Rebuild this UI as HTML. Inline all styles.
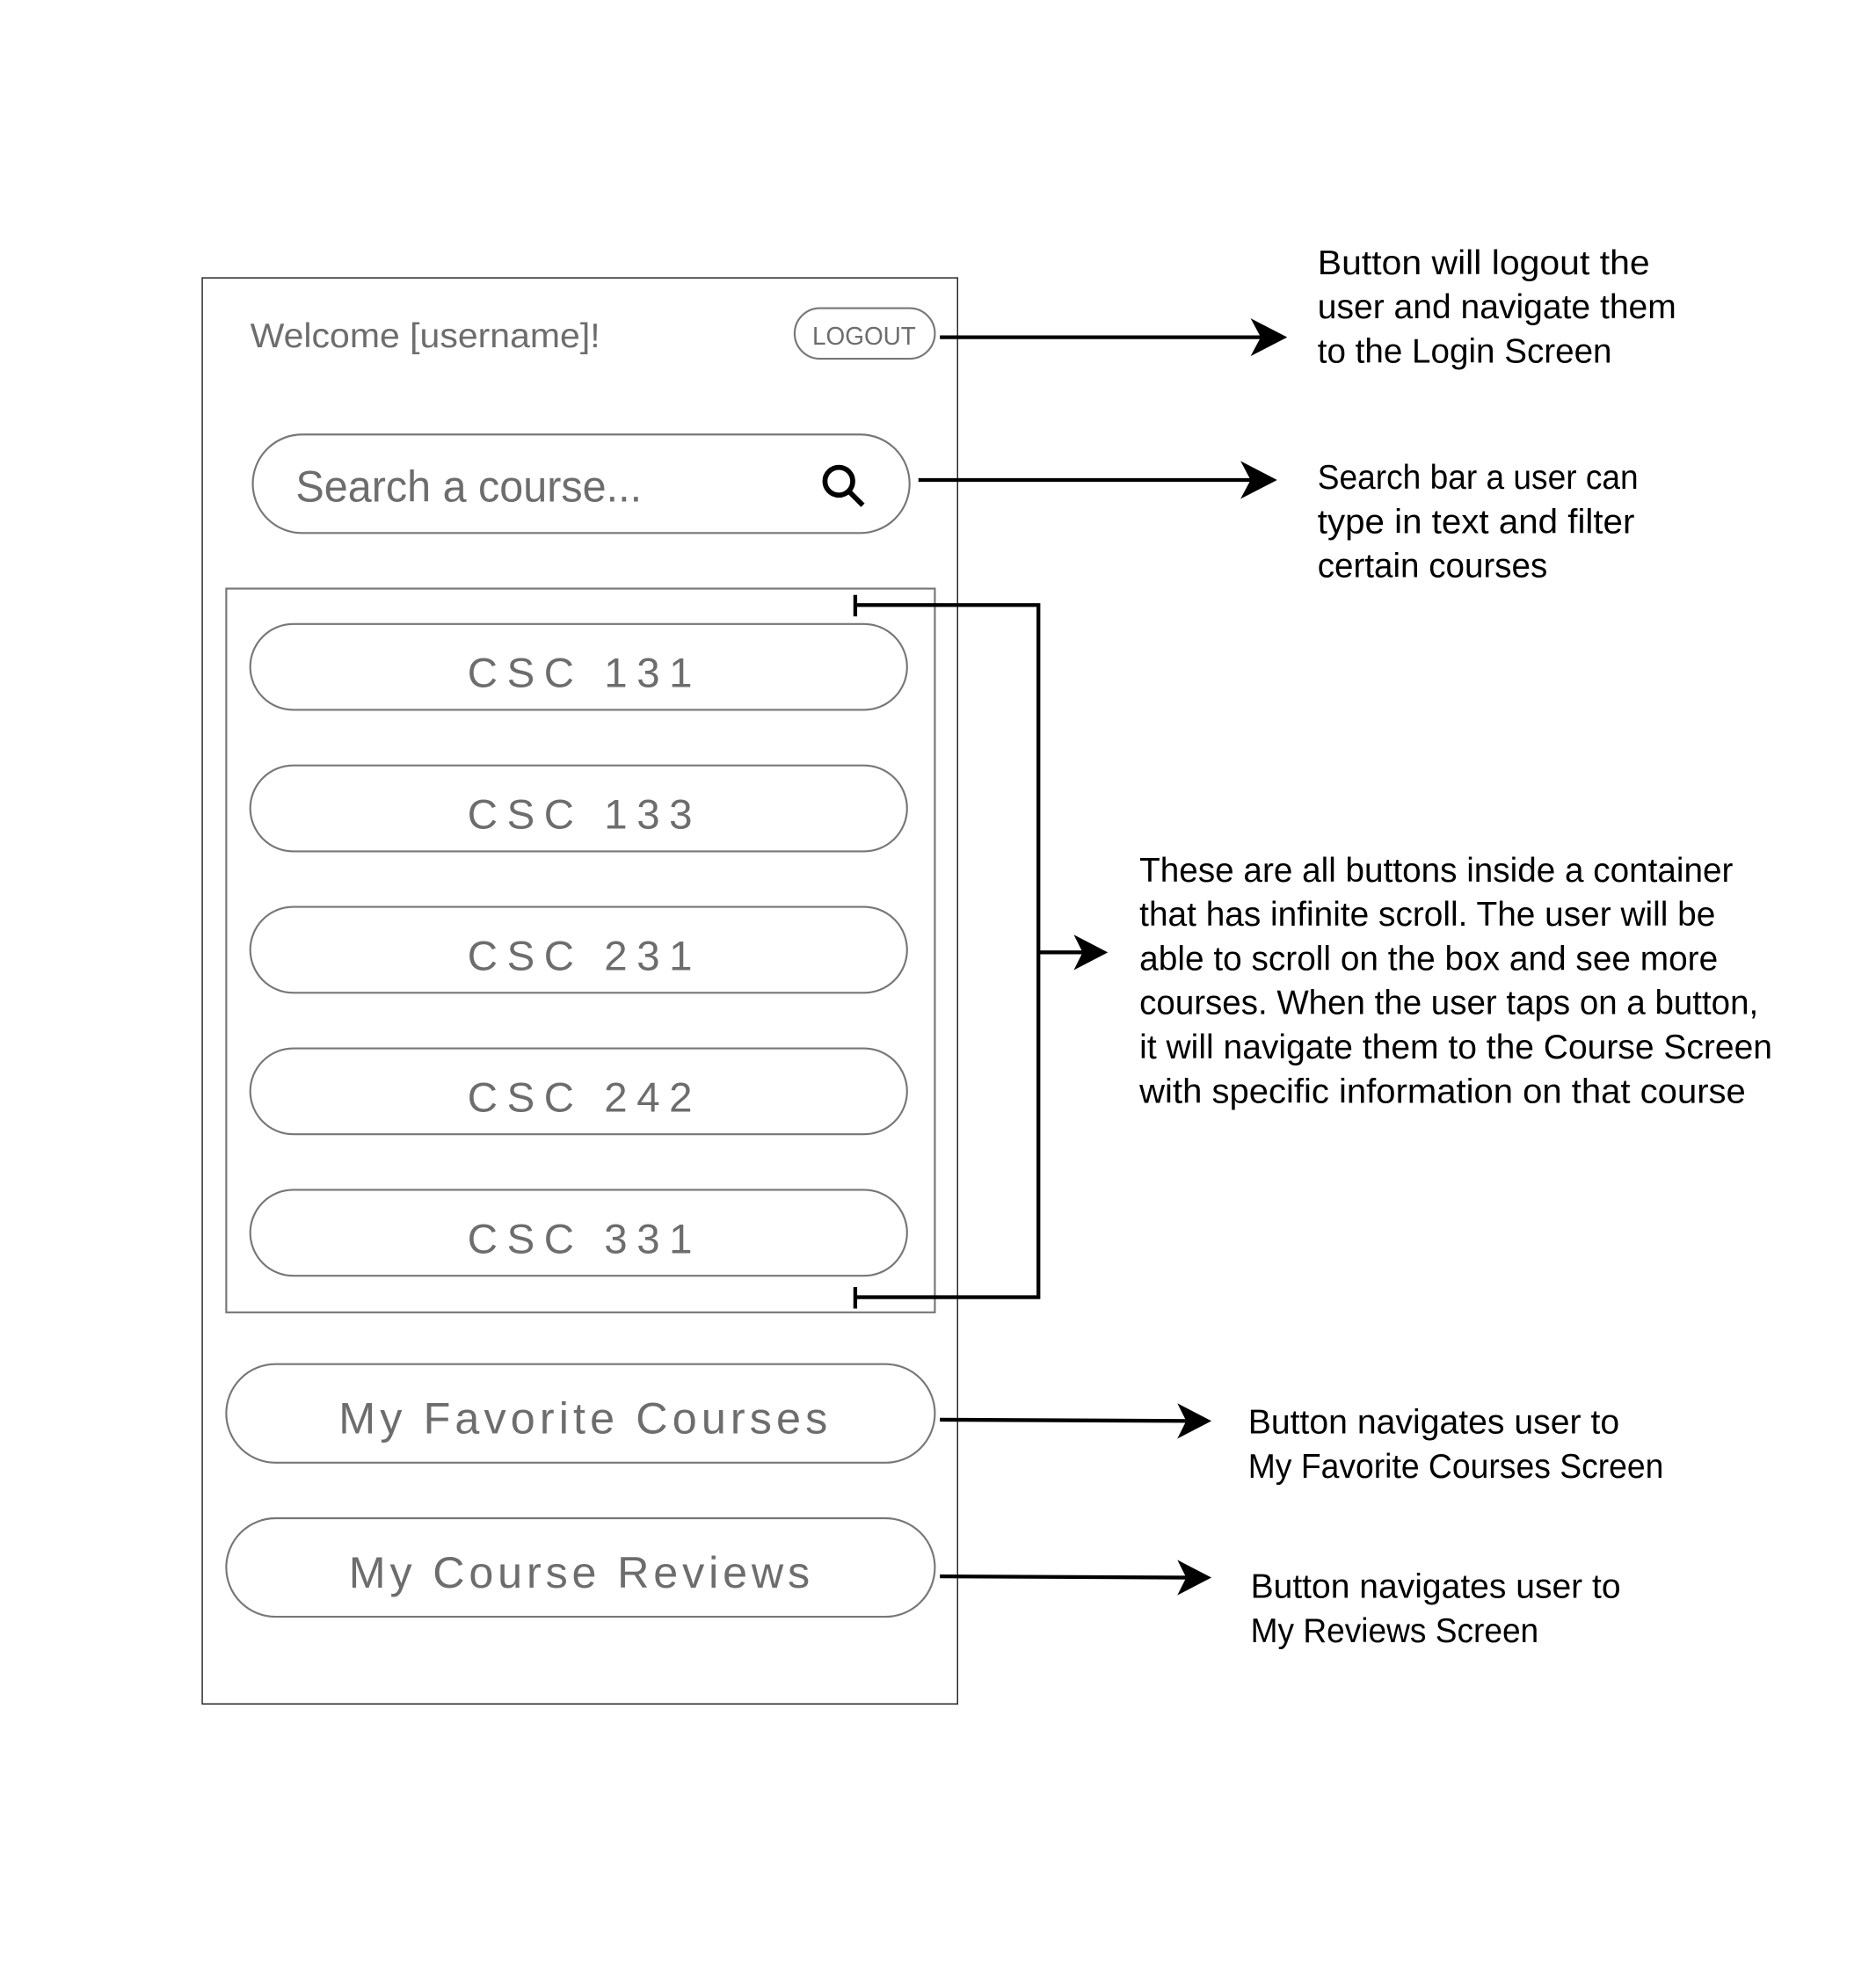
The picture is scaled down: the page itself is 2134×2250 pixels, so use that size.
<!DOCTYPE html>
<html><head><meta charset="utf-8"><style>html,body{margin:0;padding:0;background:#fff}svg{display:block}</style></head>
<body>
<svg width="2134" height="2250" viewBox="0 0 1485 1566" xmlns="http://www.w3.org/2000/svg" font-family="Liberation Sans, sans-serif">
<rect x="160" y="220" width="598" height="1129" fill="none" stroke="#222" stroke-width="1"/>
<text x="198" y="275" font-size="27" fill="#6d6d6d" textLength="277" lengthAdjust="spacingAndGlyphs">Welcome [username]!</text>
<rect x="629" y="244" width="111" height="40" rx="20" fill="none" stroke="#777" stroke-width="1.5"/>
<text x="643" y="273" font-size="20" fill="#6d6d6d" textLength="82" lengthAdjust="spacingAndGlyphs">LOGOUT</text>
<rect x="200" y="344" width="520" height="78" rx="39" fill="none" stroke="#777" stroke-width="1.5"/>
<text x="234" y="397" font-size="35" fill="#6d6d6d" textLength="274" lengthAdjust="spacingAndGlyphs">Search a course...</text>
<circle cx="664" cy="381" r="11" fill="none" stroke="#000" stroke-width="4"/>
<line x1="672" y1="389" x2="683" y2="400" stroke="#000" stroke-width="4"/>
<rect x="179" y="466" width="561" height="573" fill="none" stroke="#777" stroke-width="1.5"/>
<g fill="none" stroke="#777" stroke-width="1.5">
<rect x="198" y="494" width="520" height="68" rx="34"/>
<rect x="198" y="606" width="520" height="68" rx="34"/>
<rect x="198" y="718" width="520" height="68" rx="34"/>
<rect x="198" y="830" width="520" height="68" rx="34"/>
<rect x="198" y="942" width="520" height="68" rx="34"/>
<rect x="179" y="1080" width="561" height="78" rx="39"/>
<rect x="179" y="1202" width="561" height="78" rx="39"/>
</g>
<g font-size="33" fill="#6d6d6d">
<text x="370" y="544" textLength="178" lengthAdjust="spacing">CSC 131</text>
<text x="370" y="656" textLength="178" lengthAdjust="spacing">CSC 133</text>
<text x="370" y="768" textLength="178" lengthAdjust="spacing">CSC 231</text>
<text x="370" y="880" textLength="178" lengthAdjust="spacing">CSC 242</text>
<text x="370" y="992" textLength="178" lengthAdjust="spacing">CSC 331</text>
<text x="268" y="1135" font-size="35" textLength="387" lengthAdjust="spacing">My Favorite Courses</text>
<text x="276" y="1257" font-size="35" textLength="365" lengthAdjust="spacing">My Course Reviews</text>
</g>
<g stroke="#000" stroke-width="3" fill="none">
<line x1="744" y1="267" x2="1005" y2="267"/>
<line x1="727" y1="380" x2="997" y2="380"/>
<polyline points="677,479 822,479 822,1027 677,1027"/>
<line x1="677" y1="471" x2="677" y2="488"/>
<line x1="677" y1="1019" x2="677" y2="1036"/>
<line x1="822" y1="754" x2="865" y2="754"/>
<line x1="744" y1="1124" x2="945" y2="1125"/>
<line x1="744" y1="1248" x2="945" y2="1249"/>
</g>
<g fill="#000">
<path d="M1019,267 L990,252 L998,267 L990,282 Z"/>
<path d="M1011,380 L982,365 L990,380 L982,395 Z"/>
<path d="M877,754 L850,740 L857,754 L850,768 Z"/>
<path d="M959,1125 L932,1111 L939,1125 L932,1139 Z"/>
<path d="M959,1249 L932,1235 L939,1249 L932,1263 Z"/>
</g>
<g font-size="27" fill="#000">
<text x="1043" y="217" textLength="263" lengthAdjust="spacingAndGlyphs">Button will logout the</text>
<text x="1043" y="252" textLength="284" lengthAdjust="spacingAndGlyphs">user and navigate them</text>
<text x="1043" y="287" textLength="233" lengthAdjust="spacingAndGlyphs">to the Login Screen</text>
<text x="1043" y="387" textLength="254" lengthAdjust="spacingAndGlyphs">Search bar a user can</text>
<text x="1043" y="422" textLength="251" lengthAdjust="spacingAndGlyphs">type in text and filter</text>
<text x="1043" y="457" textLength="182" lengthAdjust="spacingAndGlyphs">certain courses</text>
<text x="902" y="698" textLength="470" lengthAdjust="spacingAndGlyphs">These are all buttons inside a container</text>
<text x="902" y="733" textLength="456" lengthAdjust="spacingAndGlyphs">that has infinite scroll. The user will be</text>
<text x="902" y="768" textLength="458" lengthAdjust="spacingAndGlyphs">able to scroll on the box and see more</text>
<text x="902" y="803" textLength="490" lengthAdjust="spacingAndGlyphs">courses. When the user taps on a button,</text>
<text x="902" y="838" textLength="501" lengthAdjust="spacingAndGlyphs">it will navigate them to the Course Screen</text>
<text x="902" y="873" textLength="480" lengthAdjust="spacingAndGlyphs">with specific information on that course</text>
<text x="988" y="1135" textLength="294" lengthAdjust="spacingAndGlyphs">Button navigates user to</text>
<text x="988" y="1170" textLength="329" lengthAdjust="spacingAndGlyphs">My Favorite Courses Screen</text>
<text x="990" y="1265" textLength="293" lengthAdjust="spacingAndGlyphs">Button navigates user to</text>
<text x="990" y="1300" textLength="228" lengthAdjust="spacingAndGlyphs">My Reviews Screen</text>
</g>
</svg>
</body></html>
